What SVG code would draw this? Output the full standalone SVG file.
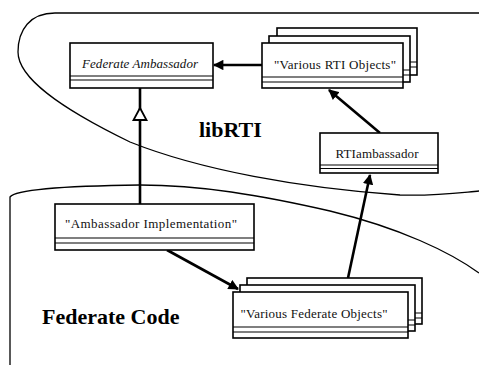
<svg xmlns="http://www.w3.org/2000/svg" width="479" height="365" viewBox="0 0 479 365">
  <style>
    .region { fill: none; stroke: #000; stroke-width: 1.3; }
    .box { fill: #fff; stroke: #000; stroke-width: 1.6; }
    .sep { stroke: #000; stroke-width: 1.2; }
    .link { fill: none; stroke: #000; stroke-width: 2.6; }
    .name { font-family: "Liberation Serif", "Times New Roman", serif; font-size: 13px; fill: #111; text-anchor: middle; }
    .area { font-family: "Liberation Serif", "Times New Roman", serif; font-size: 22px; font-weight: bold; fill: #000; }
  </style>
  <defs>
    <marker id="filled" viewBox="0 0 10 10" refX="9" refY="5" markerWidth="4.2" markerHeight="4" orient="auto" markerUnits="strokeWidth">
      <path d="M0,0 L10,5 L0,10 Z" fill="#000"/>
    </marker>
  </defs>

  <rect width="479" height="365" fill="#fff"/>

  <!-- package regions -->
  <g id="region-librti">
    <path class="region" d="M479,13 L55,13 C30,13 18,30 18,52 C18,78 60,108 130,142 C200,170 300,188 400,195 C440,196 465,192 479,191"/>
    <text class="area" x="199" y="137">libRTI</text>
  </g>
  <g id="region-federate">
    <path class="region" d="M10,365 L10,197 C15,190 60,186 140,185 C200,185 260,195 330,211 C400,228 450,252 479,273"/>
    <text class="area" x="42" y="324">Federate Code</text>
  </g>

  <!-- connectors -->
  <g id="connectors">
    <!-- generalization: implementation realises the federate ambassador -->
    <line class="link" x1="140" y1="88" x2="140" y2="204"/>
    <path d="M140,108 L146.5,120 L133.5,120 Z" fill="#fff" stroke="#000" stroke-width="1.8"/>
    <!-- RTI objects call back into the federate ambassador -->
    <line class="link" x1="262" y1="65" x2="214" y2="65" marker-end="url(#filled)"/>
    <!-- RTIambassador to RTI objects -->
    <line class="link" x1="380" y1="133" x2="329" y2="90" marker-end="url(#filled)"/>
    <!-- federate objects to RTIambassador -->
    <line class="link" x1="348" y1="278" x2="370" y2="175" marker-end="url(#filled)"/>
    <!-- implementation to federate objects -->
    <line class="link" x1="167" y1="250" x2="238" y2="289" marker-end="url(#filled)"/>
  </g>

  <!-- classes -->
  <g id="federate-ambassador">
    <rect class="box" x="70" y="43" width="143" height="45"/>
    <line class="sep" x1="70" y1="76" x2="213" y2="76"/>
    <line class="sep" x1="70" y1="80" x2="213" y2="80"/>
    <text class="name" x="140" y="68" font-style="italic" textLength="116" lengthAdjust="spacing">Federate Ambassador</text>
  </g>

  <g id="various-rti-objects">
    <rect class="box" x="277" y="28" width="140" height="47"/>
    <line class="sep" x1="277" y1="62" x2="417" y2="62"/>
    <line class="sep" x1="277" y1="67" x2="417" y2="67"/>
    <rect class="box" x="269" y="36" width="141" height="46"/>
    <line class="sep" x1="269" y1="70" x2="410" y2="70"/>
    <line class="sep" x1="269" y1="75" x2="410" y2="75"/>
    <rect class="box" x="262" y="43" width="141" height="45"/>
    <line class="sep" x1="262" y1="77" x2="403" y2="77"/>
    <line class="sep" x1="262" y1="82" x2="403" y2="82"/>
    <text class="name" x="335" y="69" textLength="122" lengthAdjust="spacing">"Various RTI Objects"</text>
  </g>

  <g id="rti-ambassador">
    <rect class="box" x="320" y="133" width="118" height="40"/>
    <line class="sep" x1="320" y1="165" x2="438" y2="165"/>
    <line class="sep" x1="320" y1="168.5" x2="438" y2="168.5"/>
    <text class="name" x="377" y="158" textLength="83" lengthAdjust="spacing">RTIambassador</text>
  </g>

  <g id="ambassador-implementation">
    <rect class="box" x="55" y="204" width="199" height="46"/>
    <line class="sep" x1="55" y1="238" x2="254" y2="238"/>
    <line class="sep" x1="55" y1="243" x2="254" y2="243"/>
    <text class="name" x="151" y="228" textLength="172" lengthAdjust="spacing">"Ambassador Implementation"</text>
  </g>

  <g id="various-federate-objects">
    <rect class="box" x="247" y="278" width="175" height="46"/>
    <line class="sep" x1="247" y1="313" x2="422" y2="313"/>
    <line class="sep" x1="247" y1="318" x2="422" y2="318"/>
    <rect class="box" x="240" y="285" width="175" height="46"/>
    <line class="sep" x1="240" y1="320" x2="415" y2="320"/>
    <line class="sep" x1="240" y1="325" x2="415" y2="325"/>
    <rect class="box" x="233" y="292" width="175" height="46"/>
    <line class="sep" x1="233" y1="327" x2="408" y2="327"/>
    <line class="sep" x1="233" y1="332" x2="408" y2="332"/>
    <text class="name" x="314" y="318" textLength="147" lengthAdjust="spacing">"Various Federate Objects"</text>
  </g>
</svg>
